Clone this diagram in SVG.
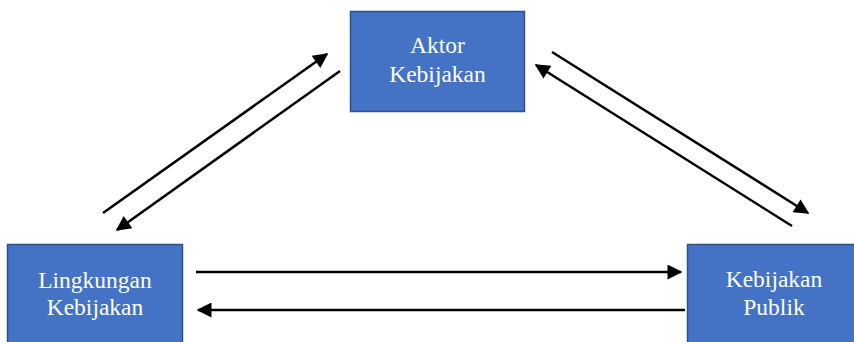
<svg xmlns="http://www.w3.org/2000/svg" width="854" height="342" viewBox="0 0 854 342">
  <style>
    .box { fill: #4472C4; stroke: #2F528F; stroke-width: 1.5; }
    .label { font-family: "Liberation Serif", "DejaVu Serif", serif; font-size: 23.5px; fill: #ffffff; text-anchor: middle; }
    .link { stroke: #000000; stroke-width: 2.5; fill: none; }
  </style>
  <defs>
    <marker id="head" viewBox="0 0 10 10" refX="9" refY="5" markerWidth="7" markerHeight="6" markerUnits="strokeWidth" orient="auto">
      <path d="M0,0 L10,5 L0,10 Z" fill="#000000"/>
    </marker>
  </defs>
  <rect width="854" height="342" fill="#ffffff"/>

  <g id="aktor">
    <rect class="box" x="350.5" y="11.5" width="174" height="100"/>
    <text class="label" x="437.5" y="53">Aktor</text>
    <text class="label" x="437.5" y="82">Kebijakan</text>
  </g>

  <g id="lingkungan">
    <rect class="box" x="7.5" y="244.5" width="175" height="110"/>
    <text class="label" x="95" y="288">Lingkungan</text>
    <text class="label" x="95" y="315">Kebijakan</text>
  </g>

  <g id="kebijakan-publik">
    <rect class="box" x="687.5" y="244.5" width="180" height="110"/>
    <text class="label" x="774" y="287">Kebijakan</text>
    <text class="label" x="774" y="315">Publik</text>
  </g>

  <g id="connectors">
    <line class="link" x1="103" y1="213" x2="327" y2="54" marker-end="url(#head)"/>
    <line class="link" x1="340" y1="71" x2="117" y2="230" marker-end="url(#head)"/>
    <line class="link" x1="552" y1="52" x2="808" y2="213" marker-end="url(#head)"/>
    <line class="link" x1="792" y1="226" x2="536" y2="65" marker-end="url(#head)"/>
    <line class="link" x1="196" y1="272" x2="681" y2="272" marker-end="url(#head)"/>
    <line class="link" x1="685" y1="310" x2="198" y2="310" marker-end="url(#head)"/>
  </g>
</svg>
